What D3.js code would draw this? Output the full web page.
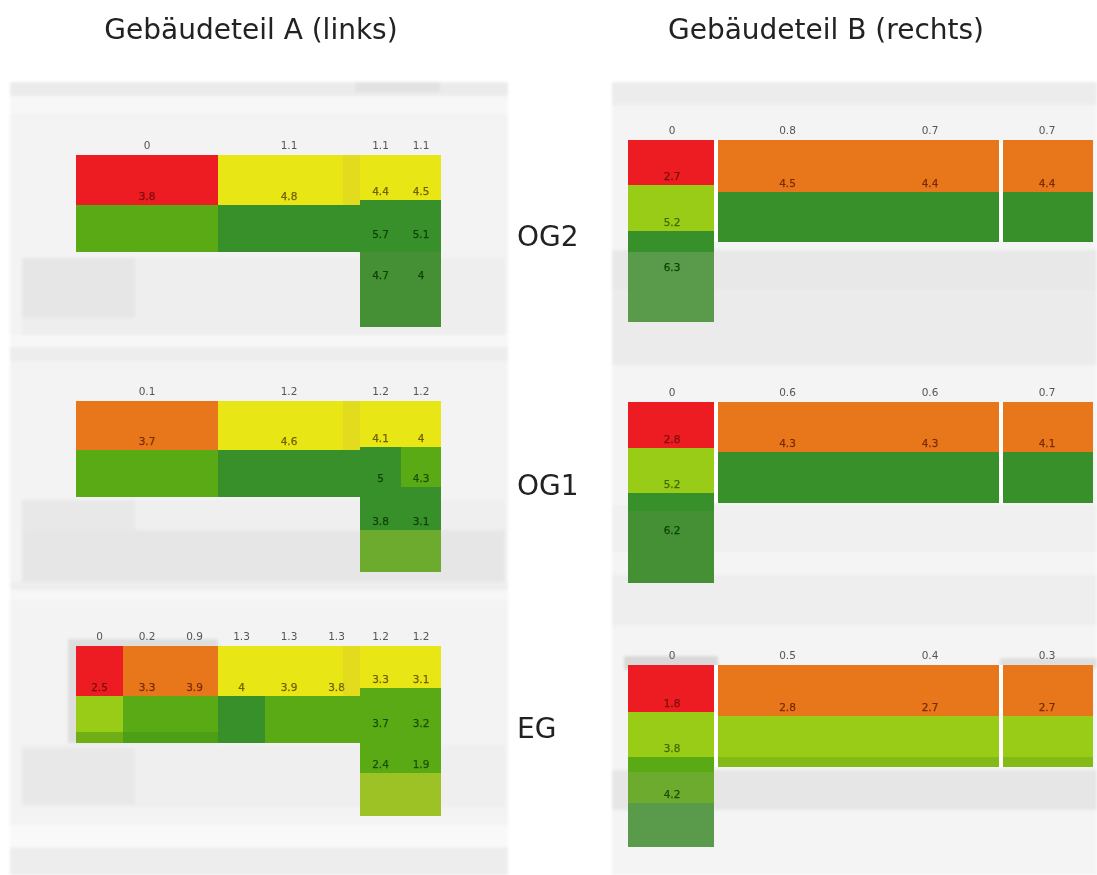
<!DOCTYPE html>
<html>
<head>
<meta charset="utf-8">
<title>Gebäudeteil A und B</title>
<script src="https://d3js.org/d3.v7.min.js"></script>
<style>
  body { margin: 0; background: #fff; }
  text { font-family: "DejaVu Sans", sans-serif; }
</style>
</head>
<body>
<div id="chart"></div>
<script>
/*********** Data ***********/

const floors = ['OG2', 'OG1', 'EG']
const buildings = ['Gebäudeteil A (links)', 'Gebäudeteil B (rechts)']

// colour class of each grid cell, one string per row, '.' = no room
const levelsAOg2 = ['RRRYYYYY', 'RRRYYYDD', 'GGGDDDDD', 'GGGDDDDD', '......MM', '......MM']
const levelsAOg1 = ['OOOYYYYY', 'OOOYYYDG', 'GGGDDDDG', 'GGGDDDDD', '......DD', '......PP']
const levelsAEg = ['ROOYYYYY', 'ROOYYYGG', 'LGGDGGGG', 'HIIDGGGG', '......GG', '......QQ']
const levelsBOg2 = ['ROOO', 'LOOO', 'LDDD', 'DDDD', 'D...', 'N...', 'N...']
const levelsBOg1 = ['ROOO', 'LOOO', 'LDDD', 'DDDD', 'D...', 'M...', 'M...']
const levelsBEg = ['ROOO', 'LOOO', 'LLLL', 'GKKK', 'G...', 'P...', 'N...']

// values above the rooms
const topAOg2 = [null, 0, null, null, 1.1, null, 1.1, 1.1]
const topAOg1 = [null, 0.1, null, null, 1.2, null, 1.2, 1.2]
const topAEg = [0, 0.2, 0.9, 1.3, 1.3, 1.3, 1.2, 1.2]
const topBOg2 = [0, 0.8, 0.7, 0.7]
const topBOg1 = [0, 0.6, 0.6, 0.7]
const topBEg = [0, 0.5, 0.4, 0.3]

// values inside the rooms, per row and column
const valuesAOg2 = [
  [null, null, null, null, null, null, 4.4, 4.5],
  [null, 3.8, null, null, 4.8, null, null, null],
  [null, null, null, null, null, null, 5.7, 5.1],
  [],
  [null, null, null, null, null, null, 4.7, 4]
]
const valuesAOg1 = [
  [null, null, null, null, null, null, 4.1, 4],
  [null, 3.7, null, null, 4.6, null, null, null],
  [null, null, null, null, null, null, 5, 4.3],
  [],
  [null, null, null, null, null, null, 3.8, 3.1]
]
const valuesAEg = [
  [null, null, null, null, null, null, 3.3, 3.1],
  [2.5, 3.3, 3.9, 4, 3.9, 3.8, null, null],
  [null, null, null, null, null, null, 3.7, 3.2],
  [],
  [null, null, null, null, null, null, 2.4, 1.9]
]
const valuesBOg2 = [[2.7], [null, 4.5, 4.4, 4.4], [5.2], [], [], [6.3]]
const valuesBOg1 = [[2.8], [null, 4.3, 4.3, 4.1], [5.2], [], [], [6.2]]
const valuesBEg = [[1.8], [null, 2.8, 2.7, 2.7], [3.8], [], [], [4.2]]

const levelCodes = ['R', 'O', 'Y', 'L', 'H', 'G', 'I', 'D', 'M', 'N', 'P', 'Q', 'K']
const levelColors = ['#ed1c24', '#e8771c', '#e9e619', '#99cc14', '#6fae18', '#5aaa17', '#4e9f15',
  '#37902a', '#458f35', '#5a9b4c', '#6cab2e', '#9dc228', '#84ba14']
const labelColors = ['#7a0c0c', '#7a2c04', '#6e6000', '#3f6a00', '#245c04', '#184f08', '#184f08',
  '#0e4208', '#0e4208', '#0e4208', '#184f08', '#3f6a00', '#3f6a00']

/*********** Layout ***********/

const svg = d3.select('#chart').append('svg')
  .attr('width', 1097)
  .attr('height', 875)

const defs = svg.append('defs')
defs.append('filter').attr('id', 'soft')
  .append('feGaussianBlur').attr('stdDeviation', 0.6)
defs.append('filter').attr('id', 'softer')
  .append('feGaussianBlur').attr('stdDeviation', 1.5)

const fill = d3.scaleOrdinal().domain(levelCodes).range(levelColors)
const ink = d3.scaleOrdinal().domain(levelCodes).range(labelColors)

// columns: the last two of wing A are narrower, B has two wide rooms between narrow ones
const xA = d3.scaleLinear().domain([0, 6, 8]).range([76, 360, 441]).interpolate(d3.interpolateRound)
const xB = d3.scaleLinear().domain([0, 1, 3, 4]).range([628, 716, 1001, 1093]).interpolate(d3.interpolateRound)

// row edges of every floor plan
const rowsAOg2 = [155, 200, 205, 243, 252, 284, 327]
const rowsAOg1 = [401, 447, 450, 487, 497, 530, 572]
const rowsAEg = [646, 688, 696, 732, 743, 773, 816]
const rowsBOg2 = [140, 185, 192, 231, 242, 252, 276, 322]
const rowsBOg1 = [402, 448, 452, 493, 503, 511, 539, 583]
const rowsBEg = [665, 712, 716, 757, 767, 772, 803, 847]

/*********** Background: the blurred floor plan screenshot ***********/

const backdrop = [
  [10, 82, 498, 793, '#f3f3f3'], [10, 82, 498, 14, '#ebebeb'], [355, 82, 85, 10, '#e2e2e2'],
  [10, 96, 498, 18, '#f7f7f7'], [22, 258, 483, 77, '#eeeeee'], [22, 258, 113, 60, '#e6e6e6'],
  [10, 335, 498, 12, '#f7f7f7'], [10, 347, 498, 14, '#ededed'],
  [22, 500, 483, 30, '#efefef'], [22, 500, 113, 40, '#e8e8e8'], [22, 530, 483, 52, '#e6e6e6'],
  [10, 582, 498, 8, '#eeeeee'], [10, 590, 498, 10, '#f7f7f7'],
  [68, 639, 150, 104, '#dedede'], [22, 745, 483, 62, '#efefef'], [22, 748, 113, 57, '#e8e8e8'],
  [10, 825, 498, 22, '#f9f9f9'], [10, 848, 498, 27, '#ededed'],
  [612, 82, 485, 793, '#f4f4f4'], [612, 82, 485, 23, '#ececec'], [612, 250, 485, 40, '#e8e8e8'],
  [612, 290, 485, 75, '#ebebeb'], [612, 505, 485, 47, '#f0f0f0'], [612, 575, 485, 50, '#eeeeee'],
  [612, 770, 485, 40, '#e6e6e6'], [624, 656, 94, 14, '#d8d8d8'], [1000, 658, 97, 10, '#dedede']
]

svg.append('g')
  .attr('filter', 'url(#softer)')
  .selectAll('rect')
  .data(backdrop)
  .join('rect')
  .attr('x', d => d[0])
  .attr('y', d => d[1])
  .attr('width', d => d[2])
  .attr('height', d => d[3])
  .attr('fill', d => d[4])

/*********** Floor plans ***********/

/**
 * Draws one floor of one building.
 *
 * @param {string[]} levels The colour class of each cell
 * @param {number[]} top The values above the rooms
 * @param {number[][]} values The values inside the rooms
 * @param {number[]} rows The row edges
 * @param {*} x The column scale
 * @param {number[]} gaps Columns that start after a gap between rooms
 */
function drawFloor (levels, top, values, rows, x, gaps) {
  const y = d3.scaleLinear().domain(d3.range(rows.length)).range(rows)
  const cells = []
  levels.forEach((row, r) => row.split('').forEach((code, c) => {
    if (code !== '.') cells.push({ r, c, code })
  }))

  const plan = svg.append('g').attr('filter', 'url(#soft)')

  // white gaps between the wings
  plan.selectAll('.gap')
    .data(cells.filter(d => gaps.includes(d.c)))
    .join('rect')
    .attr('class', 'gap')
    .attr('x', d => x(d.c) - 2)
    .attr('y', d => y(d.r))
    .attr('width', 4)
    .attr('height', d => y(d.r + 1) - y(d.r))
    .attr('fill', '#fff')

  plan.selectAll('.cell')
    .data(cells)
    .join('rect')
    .attr('class', 'cell')
    .attr('x', d => x(d.c) + (gaps.includes(d.c) ? 2 : 0))
    .attr('y', d => y(d.r))
    .attr('width', d => x(d.c + 1) - x(d.c) - (gaps.includes(d.c) ? 2 : 0) - (gaps.includes(d.c + 1) ? 2 : 0))
    .attr('height', d => y(d.r + 1) - y(d.r))
    .attr('fill', d => fill(d.code))
    .attr('shape-rendering', 'crispEdges')

  const labels = svg.append('g')
    .attr('font-size', 10.5)
    .attr('text-anchor', 'middle')
    .attr('stroke-width', 0.25)
    .attr('filter', 'url(#soft)')

  labels.selectAll('.top')
    .data(top.map((v, c) => ({ v, c })).filter(d => d.v !== null))
    .join('text')
    .attr('class', 'top')
    .attr('x', d => (x(d.c) + x(d.c + 1)) / 2)
    .attr('y', y(0) - 6)
    .attr('fill', '#555')
    .text(d => d.v)

  const inside = []
  values.forEach((row, r) => row.forEach((v, c) => {
    if (v !== null) inside.push({ v, r, c, code: levels[r][c] })
  }))

  labels.selectAll('.inside')
    .data(inside)
    .join('text')
    .attr('class', 'inside')
    .attr('x', d => (x(d.c) + x(d.c + 1)) / 2)
    .attr('y', d => y(d.r + 1) - 5)
    .attr('fill', d => ink(d.code))
    .attr('stroke', d => ink(d.code))
    .text(d => d.v)
}

drawFloor(levelsAOg2, topAOg2, valuesAOg2, rowsAOg2, xA, [])
drawFloor(levelsAOg1, topAOg1, valuesAOg1, rowsAOg1, xA, [])
drawFloor(levelsAEg, topAEg, valuesAEg, rowsAEg, xA, [])
drawFloor(levelsBOg2, topBOg2, valuesBOg2, rowsBOg2, xB, [1, 3])
drawFloor(levelsBOg1, topBOg1, valuesBOg1, rowsBOg1, xB, [1, 3])
drawFloor(levelsBEg, topBEg, valuesBEg, rowsBEg, xB, [1, 3])

// the slightly darker strip in the yellow rooms of wing A
svg.append('g')
  .attr('filter', 'url(#soft)')
  .selectAll('rect')
  .data([rowsAOg2, rowsAOg1, rowsAEg])
  .join('rect')
  .attr('x', xA(5.65))
  .attr('y', d => d[0])
  .attr('width', xA(6) - xA(5.65))
  .attr('height', d => d[2] - d[0])
  .attr('fill', '#d8c030')
  .attr('opacity', 0.3)

/*********** Titles ***********/

const heads = svg.append('g').attr('filter', 'url(#soft)')

heads.selectAll('.title')
  .data(buildings)
  .join('text')
  .attr('class', 'title')
  .attr('x', (d, i) => [251, 826][i])
  .attr('y', 39)
  .attr('text-anchor', 'middle')
  .attr('font-size', 28)
  .attr('fill', '#222')
  .text(d => d)

heads.selectAll('.floor')
  .data(floors)
  .join('text')
  .attr('class', 'floor')
  .attr('x', 517)
  .attr('y', (d, i) => [246, 495, 738][i])
  .attr('font-size', 28)
  .attr('fill', '#222')
  .text(d => d)
</script>
</body>
</html>
